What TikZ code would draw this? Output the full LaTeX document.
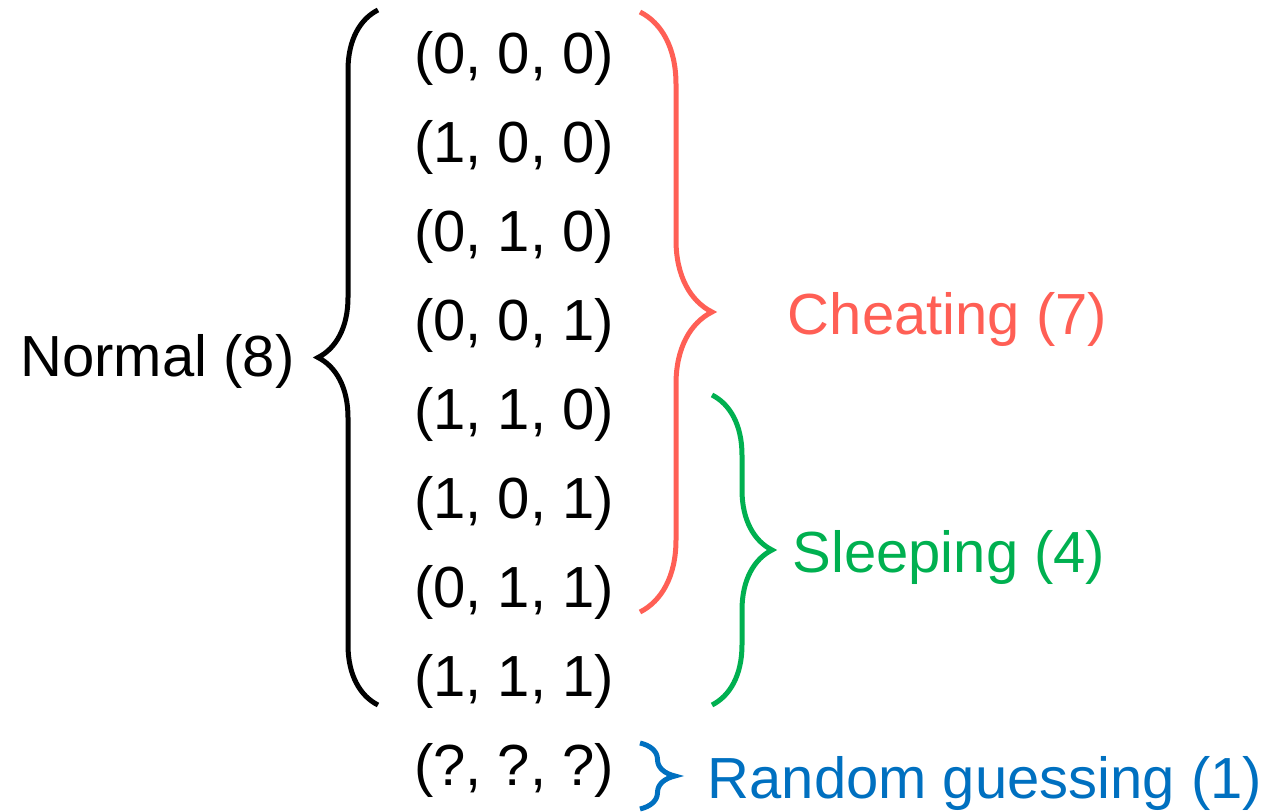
\documentclass[tikz,border=0pt]{standalone}
\usepackage{fontspec}
\setmainfont{Liberation Sans}
\usetikzlibrary{decorations.pathreplacing, positioning, calc}
\definecolor{cheatred}{HTML}{FF5F55}
\definecolor{sleepgreen}{HTML}{00B050}
\definecolor{guessblue}{HTML}{0070C0}
\tikzset{
  rowlab/.style={font=\fontsize{29}{34}\selectfont, inner sep=0pt},
  grouplab/.style={font=\fontsize{29}{34}\selectfont, inner sep=0pt},
  bracebig/.style={decorate, decoration={brace, amplitude=#1}, line width=2.5pt},
}
\begin{document}
\begin{tikzpicture}[x=0.5pt, y=-0.5pt]
  \useasboundingbox (0,0) rectangle (1271,812);

  % the eight outcomes plus the unknown one
  \foreach \lab [count=\i] in {{(0, 0, 0)},{(1, 0, 0)},{(0, 1, 0)},{(0, 0, 1)},
                               {(1, 1, 0)},{(1, 0, 1)},{(0, 1, 1)},{(1, 1, 1)},{(?, ?, ?)}}
    \node[rowlab] (r\i) at (514, {58+89.1*(\i-1)}) {\lab};

  \node[grouplab]                   (normal) at (157.5, 361) {Normal (8)};
  \node[grouplab, text=cheatred]    (cheat)  at (947.5, 320) {Cheating (7)};
  \node[grouplab, text=sleepgreen]  (sleep)  at (949, 558)   {Sleeping (4)};
  \node[grouplab, text=guessblue]   (guess)  at (985, 784)   {Random guessing (1)};

  % brace end points
  \coordinate (nTop) at (378, 10);
  \coordinate (nBot) at (378, 705);
  \coordinate (cTop) at (640, 12);
  \coordinate (cBot) at (640, 612);
  \coordinate (sTop) at (712, 395);
  \coordinate (sBot) at (712, 705);
  \coordinate (gTop) at (640, 743);
  \coordinate (gBot) at (640, 809);

  \draw[bracebig=30pt]                 (nBot) -- (nTop);
  \draw[bracebig=36pt, draw=cheatred]   (cTop) -- (cBot);
  \draw[bracebig=30pt, draw=sleepgreen] (sTop) -- (sBot);
  \draw[bracebig=17.5pt, draw=guessblue] (gTop) -- (gBot);
\end{tikzpicture}
\end{document}
